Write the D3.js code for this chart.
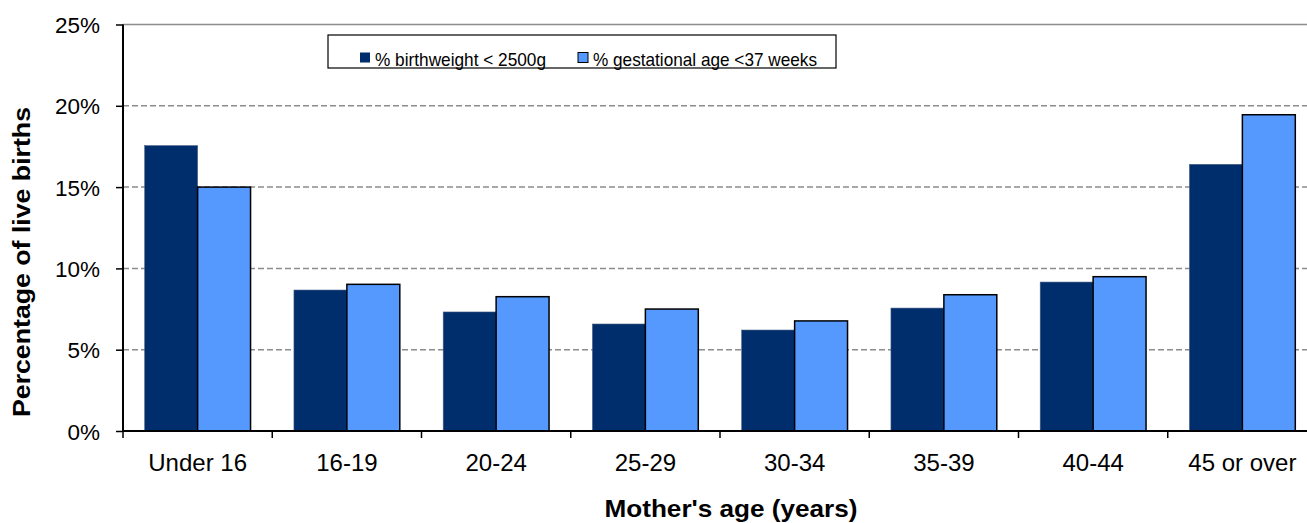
<!DOCTYPE html>
<meta charset="utf-8">
<style>
body { margin: 0; background: #fff; }
svg { display: block; font-family: "Liberation Sans", Arial, sans-serif; }
.axis .domain { display: none; }
</style>
<svg id="chart" width="1307" height="523"></svg>
<script src="https://cdn.jsdelivr.net/npm/d3@7"></script>
<script>

var ageGroups = ["Under 16", "16-19", "20-24", "25-29", "30-34", "35-39", "40-44", "45 or over"];
var lowBirthweight = [17.55, 8.67, 7.32, 6.58, 6.21, 7.56, 9.16, 16.4];
var preterm = [15.0, 9.02, 8.26, 7.5, 6.77, 8.38, 9.49, 19.45];
var seriesNames = ["% birthweight < 2500g", "% gestational age <37 weeks"];
var yTicks = [0, 5, 10, 15, 20, 25];

var svg = d3.select("#chart"),
    margin = {top: 24.5, right: -10, bottom: 92, left: 123},
    width = +svg.attr("width") - margin.left - margin.right,
    height = +svg.attr("height") - margin.top - margin.bottom,
    g = svg.append("g").attr("transform", "translate(" + margin.left + "," + margin.top + ")");

var colors = ["#002D6B", "#5599FF"];
var keys = ["bw", "ga"];

var data = ageGroups.map(function(a, i) {
  return {age: a, bw: lowBirthweight[i], ga: preterm[i]};
});

var x0 = d3.scaleBand().domain(ageGroups).range([0, width]).padding(0);
var x1 = d3.scaleBand().domain(keys).range([0, x0.bandwidth()]).paddingInner(0).paddingOuter(0.41);
var y = d3.scaleLinear().domain([0, 25]).range([height, 0]);

// grid lines
g.append("g")
  .selectAll("line")
  .data(yTicks.filter(function(t) { return t > 0; }))
  .enter().append("line")
    .attr("x1", 0)
    .attr("x2", width)
    .attr("y1", function(d) { return y(d); })
    .attr("y2", function(d) { return y(d); })
    .attr("stroke", "#8c8c8c")
    .attr("stroke-width", 1.5)
    .attr("stroke-dasharray", function(d) { return d === 25 ? null : "6,3"; });

// bars
g.append("g")
  .selectAll("g")
  .data(data)
  .enter().append("g")
    .attr("transform", function(d) { return "translate(" + x0(d.age) + ",0)"; })
  .selectAll("rect")
  .data(function(d) { return keys.map(function(k) { return {key: k, value: d[k]}; }); })
  .enter().append("rect")
    .attr("x", function(d) { return x1(d.key); })
    .attr("y", function(d) { return y(d.value); })
    .attr("width", x1.bandwidth())
    .attr("height", function(d) { return height - y(d.value); })
    .attr("fill", function(d, i) { return colors[i]; })
    .attr("stroke", function(d, i) { return i === 1 ? "#000" : "#4a5d80"; })
    .attr("stroke-width", function(d, i) { return i === 1 ? 1.5 : 0.6; });

// y axis
var yAxis = g.append("g")
    .attr("class", "axis")
    .call(d3.axisLeft(y).tickValues(yTicks).tickSize(7).tickPadding(16).tickFormat(function(d) { return d + "%"; }));
yAxis.selectAll(".tick line").attr("stroke", "#000").attr("stroke-width", 1.5);
yAxis.selectAll(".tick text").attr("font-size", 22.5).attr("fill", "#000").attr("dy", "0.36em");
g.append("line")
    .attr("x1", 0).attr("x2", 0).attr("y1", 0).attr("y2", height)
    .attr("stroke", "#000").attr("stroke-width", 2);

// x axis
var xAxis = g.append("g")
    .attr("class", "axis")
    .attr("transform", "translate(0," + height + ")")
    .call(d3.axisBottom(x0).tickSize(0).tickPadding(23));
xAxis.selectAll(".tick text").attr("font-size", 24).attr("fill", "#000");
xAxis.selectAll(".sep")
  .data(ageGroups)
  .enter().append("line")
    .attr("x1", function(d) { return x0(d); })
    .attr("x2", function(d) { return x0(d); })
    .attr("y1", 0)
    .attr("y2", 7)
    .attr("stroke", "#000")
    .attr("stroke-width", 1.5);
g.append("line")
    .attr("x1", 0).attr("x2", width).attr("y1", height).attr("y2", height)
    .attr("stroke", "#000").attr("stroke-width", 2);

// axis titles
svg.append("text")
    .attr("transform", "translate(30,262) rotate(-90)")
    .attr("text-anchor", "middle")
    .attr("font-size", 24)
    .attr("font-weight", "bold")
    .attr("textLength", 310)
    .attr("lengthAdjust", "spacingAndGlyphs")
    .text("Percentage of live births");

svg.append("text")
    .attr("x", 731)
    .attr("y", 517)
    .attr("text-anchor", "middle")
    .attr("font-size", 24)
    .attr("font-weight", "bold")
    .attr("textLength", 253)
    .attr("lengthAdjust", "spacingAndGlyphs")
    .text("Mother's age (years)");

// legend
var legend = svg.append("g").attr("transform", "translate(328,35)");
legend.append("rect")
    .attr("width", 508)
    .attr("height", 33)
    .attr("fill", "#fff")
    .attr("stroke", "#000")
    .attr("stroke-width", 1.2);

var item = legend.selectAll(".item")
  .data(seriesNames)
  .enter().append("g")
    .attr("transform", function(d, i) { return "translate(" + (i === 0 ? 32 : 250) + ",0)"; });

item.append("rect")
    .attr("y", 17.5)
    .attr("width", 10)
    .attr("height", 10)
    .attr("fill", function(d, i) { return colors[i]; })
    .attr("stroke", function(d, i) { return i === 1 ? "#000" : "none"; })
    .attr("stroke-width", 1);

item.append("text")
    .attr("x", 15)
    .attr("y", 30.5)
    .attr("font-size", 19)
    .attr("fill", "#000")
    .attr("textLength", function(d, i) { return i === 0 ? 171 : 224; })
    .attr("lengthAdjust", "spacingAndGlyphs")
    .text(function(d) { return d; });

</script>
